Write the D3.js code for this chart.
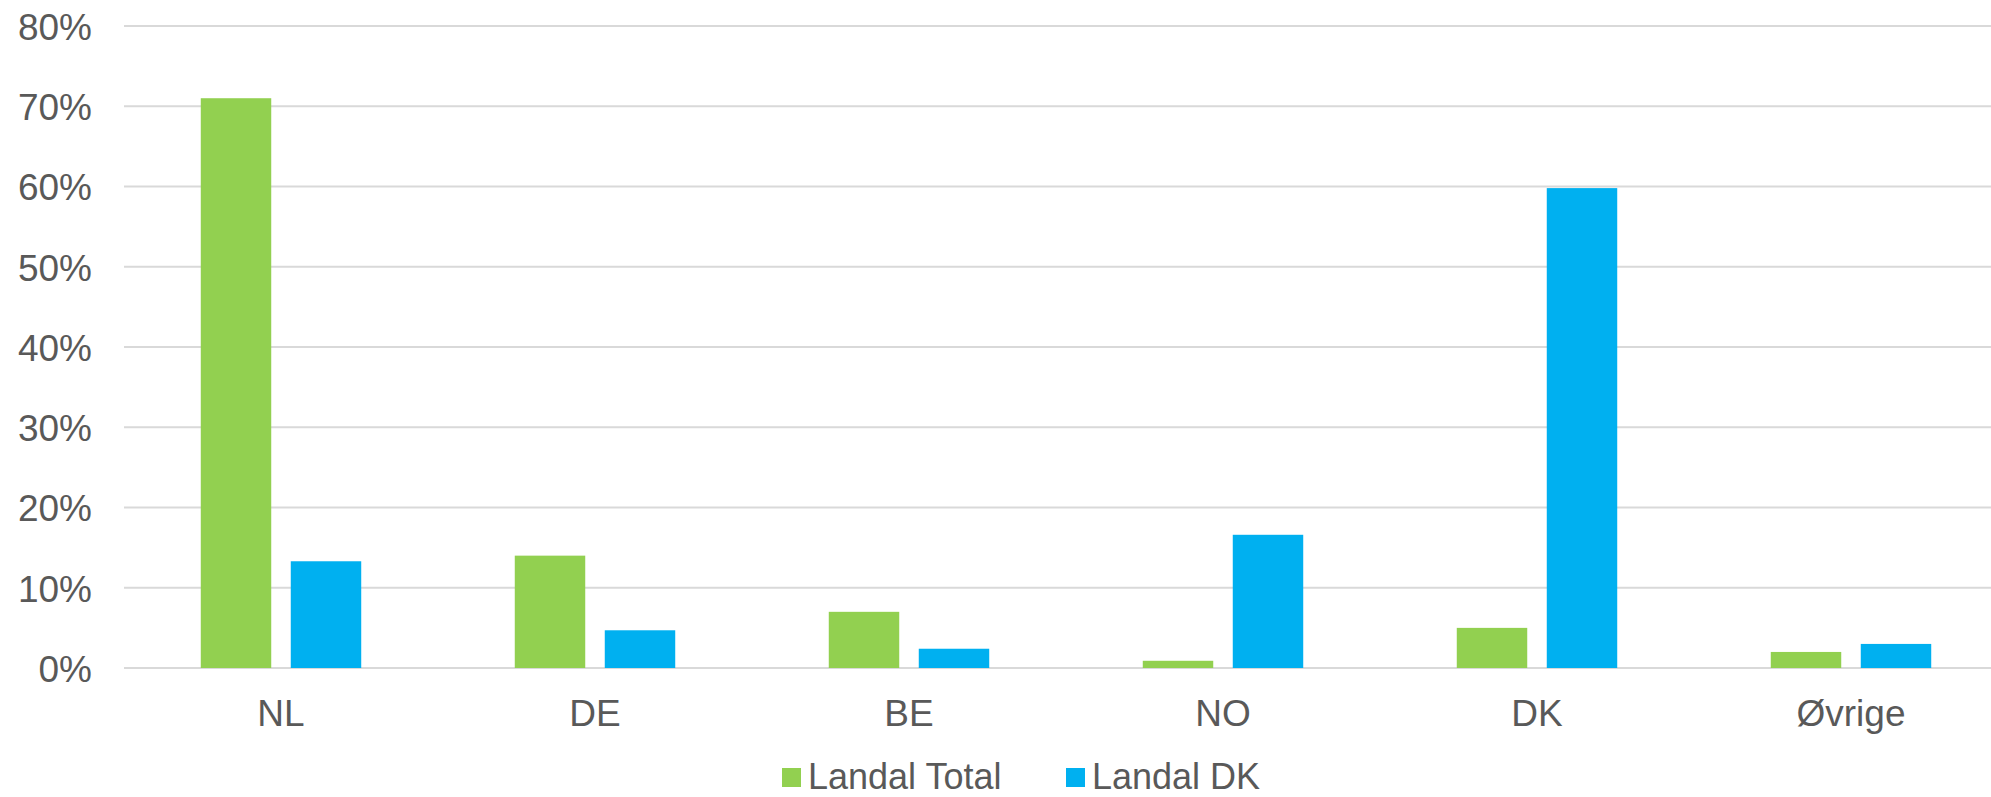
<!DOCTYPE html>
<html>
<head>
<meta charset="utf-8">
<script src="https://cdn.jsdelivr.net/npm/d3@7"></script>
<style>
  html, body { margin: 0; padding: 0; background: #ffffff; overflow: hidden; }
  svg { display: block; }
  text { font-family: "Liberation Sans", Arial, sans-serif; fill: #595959; }
</style>
</head>
<body>
<svg id="chart" width="1991" height="797"></svg>
<script>
// Guest share by country of origin
const categories = ["NL", "DE", "BE", "NO", "DK", "Øvrige"];
const seriesNames = ["Landal Total", "Landal DK"];
const landalTotal = [0.71, 0.14, 0.07, 0.009, 0.05, 0.02];
const landalDK = [0.133, 0.047, 0.024, 0.166, 0.598, 0.03];
const yTicks = [0, 0.1, 0.2, 0.3, 0.4, 0.5, 0.6, 0.7, 0.8];
const colors = ["#92D050", "#00B0F0"];

const rows = categories.map((c, i) => ({ cat: c, values: [landalTotal[i], landalDK[i]] }));

const svg = d3.select("#chart");
const plot = { left: 124, right: 2008, top: 26, bottom: 668 };

const x0 = d3.scaleBand().domain(categories).range([plot.left, plot.right]).paddingInner(0).paddingOuter(0);
const groupW = x0.bandwidth() * 0.511;
const x1 = d3.scaleBand().domain(seriesNames).range([-groupW / 2, groupW / 2]).paddingInner(0.217).paddingOuter(0);
const y = d3.scaleLinear().domain([0, 0.8]).range([plot.bottom, plot.top]);

// Horizontal gridlines
svg.append("g")
  .selectAll("line")
  .data(yTicks)
  .join("line")
  .attr("x1", plot.left)
  .attr("x2", plot.right)
  .attr("y1", d => y(d))
  .attr("y2", d => y(d))
  .attr("stroke", "#d9d9d9")
  .attr("stroke-width", 2);

// Y axis labels
const yAxis = d3.axisLeft(y).tickValues(yTicks).tickFormat(d3.format(".0%")).tickSize(0).tickPadding(0);
const yg = svg.append("g").attr("transform", `translate(${plot.left - 32},0)`).call(yAxis);
yg.select(".domain").remove();
yg.selectAll("text")
  .attr("font-size", 37)
  .attr("font-family", "Liberation Sans, Arial, sans-serif")
  .attr("fill", "#595959")
  .attr("dy", "0.36em");

// Bars
const groups = svg.append("g")
  .selectAll("g")
  .data(rows)
  .join("g")
  .attr("transform", d => `translate(${x0(d.cat) + x0.bandwidth() / 2},0)`);

groups.selectAll("rect")
  .data(d => d.values.map((v, i) => ({ key: seriesNames[i], v, i })))
  .join("rect")
  .attr("x", d => x1(d.key))
  .attr("width", x1.bandwidth())
  .attr("y", d => y(d.v))
  .attr("height", d => y(0) - y(d.v))
  .attr("fill", d => colors[d.i]);

// Category axis labels
const xAxis = d3.axisBottom(x0).tickSize(0).tickPadding(0);
const xg = svg.append("g").attr("transform", `translate(0,${plot.bottom + 58})`).call(xAxis);
xg.select(".domain").remove();
xg.selectAll("text")
  .attr("font-size", 37)
  .attr("font-family", "Liberation Sans, Arial, sans-serif")
  .attr("fill", "#595959")
  .attr("dy", 0);

// Legend
const legend = svg.append("g").attr("transform", "translate(782,0)");
const legendX = [0, 284];
seriesNames.forEach((name, i) => {
  const g = legend.append("g").attr("transform", `translate(${legendX[i]},0)`);
  g.append("rect").attr("x", 0).attr("y", 768).attr("width", 19).attr("height", 19).attr("fill", colors[i]);
  g.append("text").attr("x", 26).attr("y", 789).attr("font-size", 36).text(name);
});
</script>
</body>
</html>
